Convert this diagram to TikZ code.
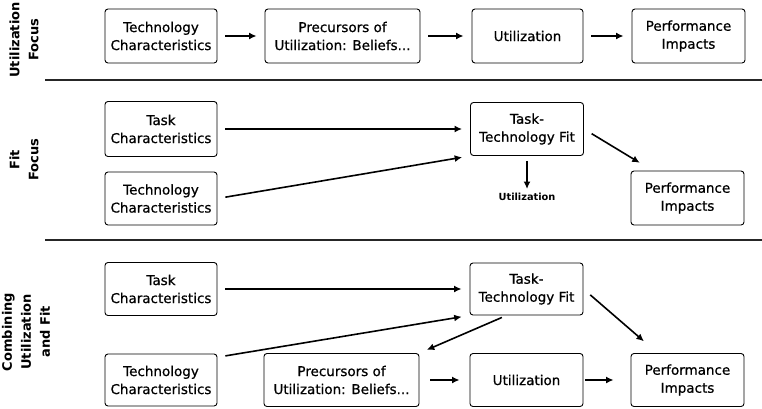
\documentclass[tikz,border=0pt]{standalone}
\usepackage{fontspec}
\setmainfont{DejaVu Sans}
\newfontfamily\boxfont[FakeBold=0.7]{DejaVu Sans}
\usetikzlibrary{arrows.meta,calc}

\tikzset{
  box/.style={draw=black, line width=0.9pt, rounded corners=3pt, align=center,
    inner sep=1pt, font=\boxfont\fontsize{13.5}{18}\selectfont},
  arr/.style={line width=1.6pt, -{Latex[length=7.5pt,width=7pt]},
    shorten <=8pt, shorten >=8pt},
  rowlabel/.style={rotate=90, align=center, font=\bfseries\fontsize{13}{19}\selectfont},
  sep/.style={line width=2pt, black!85},
  small/.style={font=\bfseries\fontsize{9.8}{11}\selectfont, inner sep=1pt}
}

\begin{document}
\begin{tikzpicture}[x=1pt, y=-1pt]
\useasboundingbox (0,0) rectangle (762,408);

% section titles
\node[rowlabel] (lab1) at (24,40) {Utilization\\Focus};
\node[rowlabel] (lab2) at (24,160) {Fit\\Focus};
\node[rowlabel] (lab3) at (26,332) {Combining\\Utilization\\and Fit};

% section dividers
\coordinate (d1a) at (45,80);  \coordinate (d1b) at (762,80);
\coordinate (d2a) at (45,240); \coordinate (d2b) at (762,240);
\draw[sep] (d1a) -- (d1b);
\draw[sep] (d2a) -- (d2b);

% utilization focus
\node[box, minimum width=112pt, minimum height=54pt] (t1) at (161,36) {Technology\\Characteristics};
\node[box, minimum width=155pt, minimum height=54pt] (p1) at (342.5,36) {Precursors of\\Utilization: Beliefs...};
\node[box, minimum width=111pt, minimum height=54pt] (u1) at (527.5,36) {Utilization};
\node[box, minimum width=113pt, minimum height=54pt] (f1) at (688.5,36) {Performance\\Impacts};
\draw[arr] (t1) -- (p1);
\draw[arr] (p1) -- (u1);
\draw[arr] (u1) -- (f1);

% fit focus
\node[box, minimum width=112pt, minimum height=55pt] (task2) at (161,129) {Task\\Characteristics};
\node[box, minimum width=112pt, minimum height=53pt] (tech2) at (161,198.5) {Technology\\Characteristics};
\node[box, minimum width=113pt, minimum height=53pt] (ttf2) at (527,129) {Task-\\Technology Fit};
\node[small] (ulab) at (527,197) {Utilization};
\node[box, minimum width=113pt, minimum height=54pt] (perf2) at (687.5,198) {Performance\\Impacts};
\draw[arr] (task2.east) -- (ttf2.west);
\draw[arr] (tech2.east) -- (ttf2.south west);
\draw[arr, shorten <=5pt, shorten >=3pt] (ttf2.south) -- (ulab.north);
\draw[arr, shorten <=9pt, shorten >=15pt] (ttf2.east) -- ($(perf2.north west)+(22,0)$);

% combining utilization and fit
\node[box, minimum width=112pt, minimum height=53pt] (task3) at (161,289) {Task\\Characteristics};
\node[box, minimum width=112pt, minimum height=52pt] (tech3) at (161,380) {Technology\\Characteristics};
\node[box, minimum width=113pt, minimum height=52pt] (ttf3) at (526.5,289) {Task-\\Technology Fit};
\node[box, minimum width=155pt, minimum height=53pt] (prec3) at (341.5,380) {Precursors of\\Utilization: Beliefs...};
\node[box, minimum width=113pt, minimum height=53pt] (util3) at (526.5,380) {Utilization};
\node[box, minimum width=113pt, minimum height=53pt] (perf3) at (687.5,380) {Performance\\Impacts};
\draw[arr] (task3.east) -- (ttf3.west);
\draw[arr] (tech3.22) -- (ttf3.south west);
\draw[arr, shorten <=5pt] ($(ttf3.south)+(-20,0)$) -- (prec3.north east);
\draw[arr, shorten <=9pt, shorten >=18pt] (ttf3.east) -- ($(perf3.north west)+(27,0)$);
\draw[arr, shorten <=11pt, shorten >=10pt] (prec3) -- (util3);
\draw[arr, shorten <=2pt, shorten >=17pt] (util3) -- (perf3);
\end{tikzpicture}
\end{document}
